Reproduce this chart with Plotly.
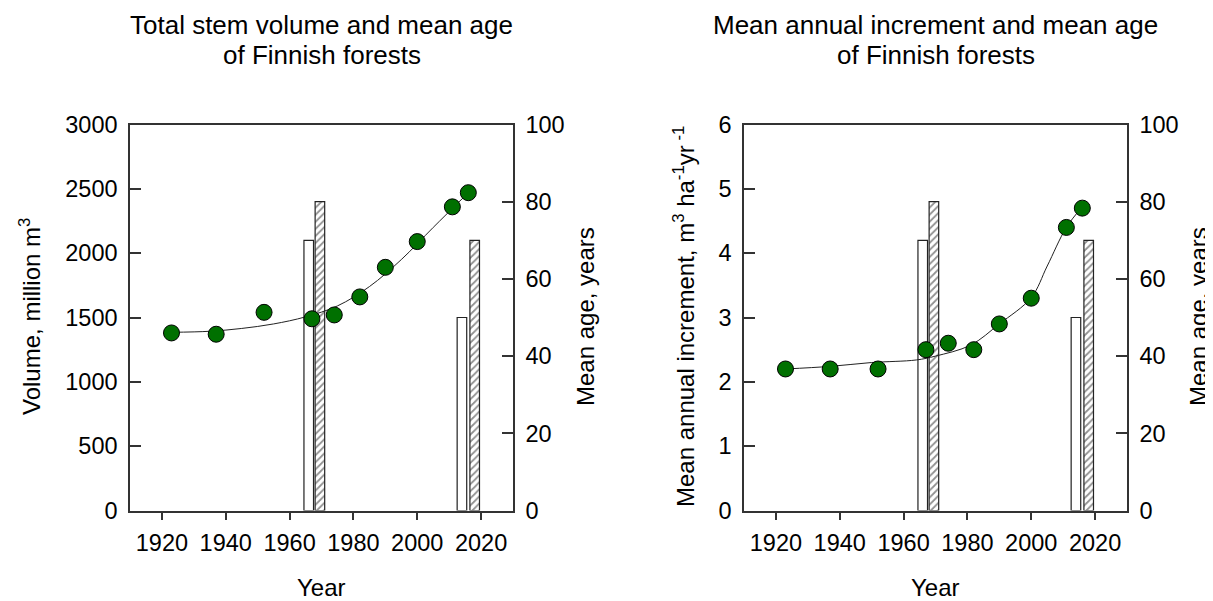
import plotly.graph_objects as go

# ---------------- data ----------------
years = [1923, 1937, 1952, 1967, 1974, 1982, 1990, 2000, 2011, 2016]
volume = [1380, 1370, 1540, 1490, 1520, 1660, 1890, 2090, 2360, 2470]
increment = [2.2, 2.2, 2.2, 2.5, 2.6, 2.5, 2.9, 3.3, 4.4, 4.7]

vol_curve_years = [1923, 1935, 1945, 1955, 1965, 1975, 1985, 1995, 2005, 2016]
vol_curve = [1385, 1393, 1415, 1450, 1505, 1590, 1740, 1950, 2200, 2470]

inc_curve_years = [1923, 1937, 1950, 1964, 1970, 1981, 1990, 2000, 2005, 2011, 2016]
inc_curve = [2.20, 2.24, 2.30, 2.34, 2.40, 2.57, 2.90, 3.31, 3.80, 4.40, 4.72]

age_years_a = [1966, 2014]
age_a = [70, 50]
age_years_b = [1969.5, 2018]
age_b = [80, 70]

x_ticks = [1920, 1940, 1960, 1980, 2000, 2020]

# ---------------- layout helpers ----------------
OFF = 8                      # page body margin offset
W, H = 1213 - OFF, 601 - OFF
FONT = "Liberation Sans, Arial, sans-serif"
TICK_FS = 23.5
LBL_FS = 24
TTL_FS = 26
LINE_C = "#333333"
GREEN = "#007000"


def px_x(p):
    return (p - OFF) / W


def px_y(p):
    return 1 - (p - OFF) / H


fig = go.Figure()

bar_plain = dict(color="white", line=dict(color="#222222", width=1.2))
bar_hatch = dict(color="white", line=dict(color="#222222", width=1.2),
                 pattern=dict(shape="/", fgcolor="#222222", bgcolor="white",
                              size=5, solidity=0.35))

# ---- left panel: bars on y (right, 0-100), points on y2 (left, overlay) ----
fig.add_trace(go.Bar(x=age_years_a, y=age_a, width=3, xaxis="x", yaxis="y",
                     marker=bar_plain, showlegend=False))
fig.add_trace(go.Bar(x=age_years_b, y=age_b, width=3, xaxis="x", yaxis="y",
                     marker=bar_hatch, showlegend=False))
fig.add_trace(go.Scatter(x=vol_curve_years, y=vol_curve, mode="lines", xaxis="x", yaxis="y2",
                         line=dict(color="#222222", width=1, shape="spline"), showlegend=False))
fig.add_trace(go.Scatter(x=years, y=volume, mode="markers", xaxis="x", yaxis="y2",
                         marker=dict(size=16, color=GREEN, line=dict(color="black", width=1)),
                         showlegend=False))

# ---- right panel ----
fig.add_trace(go.Bar(x=age_years_a, y=age_a, width=3, xaxis="x2", yaxis="y3",
                     marker=bar_plain, showlegend=False))
fig.add_trace(go.Bar(x=age_years_b, y=age_b, width=3, xaxis="x2", yaxis="y3",
                     marker=bar_hatch, showlegend=False))
fig.add_trace(go.Scatter(x=inc_curve_years, y=inc_curve, mode="lines", xaxis="x2", yaxis="y4",
                         line=dict(color="#222222", width=1, shape="spline"), showlegend=False))
fig.add_trace(go.Scatter(x=years, y=increment, mode="markers", xaxis="x2", yaxis="y4",
                         marker=dict(size=16, color=GREEN, line=dict(color="black", width=1)),
                         showlegend=False))

ydom = [px_y(510.5), px_y(124.5)]
xdom1 = [px_x(130), px_x(513)]
xdom2 = [px_x(744), px_x(1127)]

tickfont = dict(family=FONT, size=TICK_FS, color="black")

xcommon = dict(range=[1910, 2030], tickvals=x_ticks, ticks="outside", ticklen=8,
               tickwidth=1.5, tickcolor=LINE_C, showline=True, linecolor=LINE_C,
               linewidth=1.5, mirror=True, showgrid=False, zeroline=False,
               tickfont=tickfont, ticklabelstandoff=3)
ycommon = dict(ticks="inside", ticklen=11, tickwidth=1.5, tickcolor=LINE_C,
               showline=True, linecolor=LINE_C, linewidth=1.5, showgrid=False,
               zeroline=False, tickfont=tickfont, ticklabelstandoff=6)

fig.update_layout(
    width=W, height=H,
    margin=dict(l=0, r=0, t=0, b=0, autoexpand=False),
    paper_bgcolor="white", plot_bgcolor="white",
    barmode="overlay",
    font=dict(family=FONT, color="black"),
    xaxis=dict(domain=xdom1, anchor="y", **xcommon),
    yaxis=dict(domain=ydom, anchor="x", side="right", range=[0, 100], dtick=20, **ycommon),
    yaxis2=dict(overlaying="y", anchor="x", side="left", range=[0, 3000], dtick=500, **ycommon),
    xaxis2=dict(domain=xdom2, anchor="y3", **xcommon),
    yaxis3=dict(domain=ydom, anchor="x2", side="right", range=[0, 100], dtick=20, **ycommon),
    yaxis4=dict(overlaying="y3", anchor="x2", side="left", range=[0, 6], dtick=1, **ycommon),
)

ann = []


def text(x, y, s, size, angle=0):
    ann.append(dict(x=px_x(x), y=px_y(y), xref="paper", yref="paper", text=s,
                    showarrow=False, xanchor="center", yanchor="middle", textangle=angle,
                    font=dict(family=FONT, size=size, color="black")))


# titles
text(321.5, 25, "Total stem volume and mean age", TTL_FS)
text(321.5, 55, "of Finnish forests", TTL_FS)
text(935.5, 25, "Mean annual increment and mean age", TTL_FS)
text(935.5, 55, "of Finnish forests", TTL_FS)
# x labels
text(321.5, 587, "Year", LBL_FS)
text(935.5, 587, "Year", LBL_FS)
# y labels
text(30, 317, "Volume, million m<sup>3</sup>", LBL_FS, -90)
text(585, 317, "Mean age, years", LBL_FS, -90)
text(684, 317, "Mean annual increment, m<sup>3</sup> ha<sup>-1</sup>yr<sup> -1</sup>", LBL_FS, -90)
text(1198, 317, "Mean age, years", LBL_FS, -90)

fig.update_layout(annotations=ann)

fig.write_html("out.html")
